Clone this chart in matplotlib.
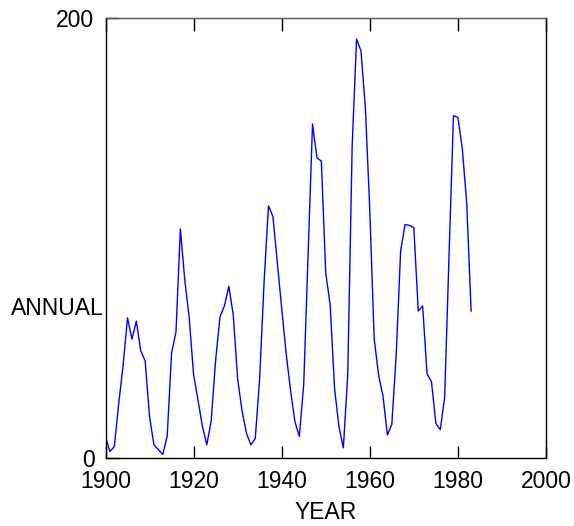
import matplotlib
matplotlib.use("Agg")
import matplotlib.pyplot as plt

# Annual mean sunspot numbers, 1900-1983
years = list(range(1900, 1984))
annual = [
    9.5, 2.7, 5.0, 24.4, 42.0, 63.5, 53.8, 62.0, 48.5, 43.9,
    18.6, 5.7, 3.6, 1.4, 9.6, 47.4, 57.1, 103.9, 80.6, 63.6,
    37.6, 26.1, 14.2, 5.8, 16.7, 44.3, 63.9, 69.0, 77.8, 64.9,
    35.7, 21.2, 11.1, 5.7, 8.7, 36.1, 79.7, 114.4, 109.6, 88.8,
    67.8, 47.5, 30.6, 16.3, 9.6, 33.2, 92.6, 151.6, 136.3, 134.7,
    83.9, 69.4, 31.5, 13.9, 4.4, 38.0, 141.7, 190.2, 184.8, 159.0,
    112.3, 53.9, 37.5, 27.9, 10.2, 15.1, 47.0, 93.8, 105.9, 105.5,
    104.5, 66.6, 68.9, 38.0, 34.5, 15.5, 12.6, 27.5, 92.5, 155.4,
    154.6, 140.4, 115.9, 66.6,
]
xticks = [1900, 1920, 1940, 1960, 1980, 2000]
yticks = [0, 200]

plt.rcParams['font.family'] = ['Liberation Sans', 'DejaVu Sans']

fig = plt.figure(figsize=(5.74, 5.26), dpi=100)
ax = fig.add_axes([0.1838, 0.1302, 0.7674, 0.8365])

ax.plot(years, annual, color='#0000ff', lw=1.0)

ax.set_xlim(1900, 2000)
ax.set_ylim(0, 200)
ax.set_xticks(xticks)
ax.set_yticks(yticks)
ax.tick_params(axis='x', direction='in', length=9, width=1, pad=9,
               labelsize=16.5, top=True)
ax.tick_params(axis='y', direction='in', length=9, width=1, pad=8,
               labelsize=16.5)

for side in ['left', 'bottom', 'right']:
    ax.spines[side].set_color('black')
    ax.spines[side].set_linewidth(1.0)
ax.spines['top'].set_color('#555555')
ax.spines['top'].set_linewidth(1.0)

ax.set_xlabel('YEAR', fontsize=16.5, labelpad=6)
ax.set_ylabel('ANNUAL', fontsize=16.5, rotation=0, ha='right', va='center')
ax.yaxis.set_label_coords(-0.004, 0.339)

fig.savefig('out.png', dpi=100)
